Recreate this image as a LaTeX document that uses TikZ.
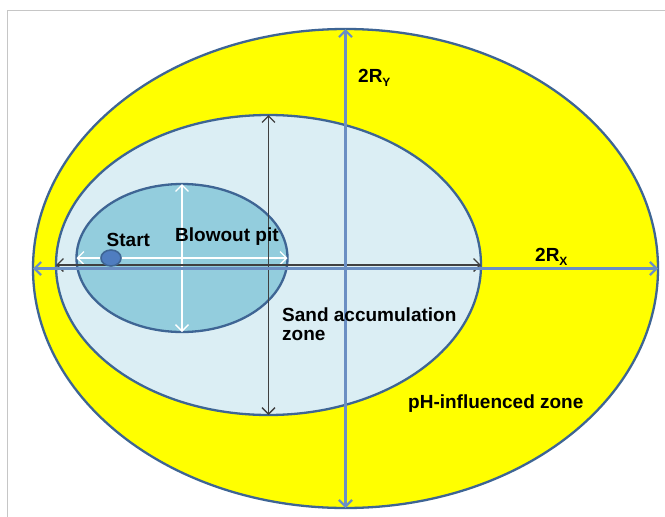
\documentclass[tikz,border=0pt]{standalone}
\usepackage{fontspec}
\setmainfont{Liberation Sans}
\usetikzlibrary{shapes.geometric,arrows.meta}
\definecolor{zoneyellow}{HTML}{FFFF00}
\definecolor{zoneedge}{HTML}{3E6594}
\definecolor{sandblue}{HTML}{DBEEF4}
\definecolor{pitblue}{HTML}{93CDDD}
\definecolor{startblue}{HTML}{4F7DC0}
\definecolor{axisblue}{HTML}{6B8FC3}
\definecolor{framegray}{HTML}{C6C6C6}
\newcommand{\subl}[1]{\raisebox{-4pt}{\fontsize{12}{12}\selectfont #1}}

\begin{document}
\begin{tikzpicture}[x=1pt,y=-1pt,>={Straight Barb[length=6.5pt,width=13pt]},
  zone/.style={ellipse,draw=zoneedge,line width=2.3pt,inner sep=0pt,outer sep=0pt},
  lbl/.style={anchor=base west,inner sep=0pt,font=\fontsize{19}{21}\selectfont\bfseries}]
  \useasboundingbox (0,0) rectangle (665,517);
  \fill[white] (0,0) rectangle (665,517);
  % frame
  \draw[framegray,line width=1.2pt] (7.5,517) -- (7.5,10.5) -- (665,10.5);

  % zones
  \node[zone,fill=zoneyellow,minimum width=625,minimum height=479] (outer) at (345.5,268.5) {};
  \node[zone,fill=sandblue,minimum width=425,minimum height=300] (sand) at (268.5,265) {};
  \node[zone,fill=pitblue,minimum width=211,minimum height=148] (pit) at (182,258) {};

  % axes
  \draw[white,line width=1.3pt,<->] (pit.west) -- (pit.east);
  \draw[white,line width=1.3pt,<->] (pit.north) -- (pit.south);
  \draw[black!75,line width=1.3pt,<->] (sand.west) -- (sand.east);
  \draw[black!75,line width=1.3pt,<->] (sand.north) -- (sand.south);
  \draw[axisblue,line width=2.2pt,<->] (outer.west) -- (outer.east);
  \draw[axisblue,line width=2.2pt,<->] (outer.north) -- (outer.south);

  \node[ellipse,draw=zoneedge,line width=1.6pt,fill=startblue,inner sep=0pt,
        minimum width=20,minimum height=16] (start) at (111,258) {};

  % labels
  \node[lbl] (ry) at (358,82) {2R\subl{Y}};
  \node[lbl] (rx) at (535,261.5) {2R\subl{X}};
  \node[lbl] (startlbl) at (106.5,246.5) {Start};
  \node[lbl] (pitlbl) at (175,241.5) {Blowout pit};
  \node[lbl,anchor=north west,align=left,font=\fontsize{19}{19}\selectfont\bfseries] (sandlbl) at (282,308) {Sand accumulation\\zone};
  \node[lbl] (phlbl) at (408,408.5) {pH-influenced zone};
\end{tikzpicture}
\end{document}
